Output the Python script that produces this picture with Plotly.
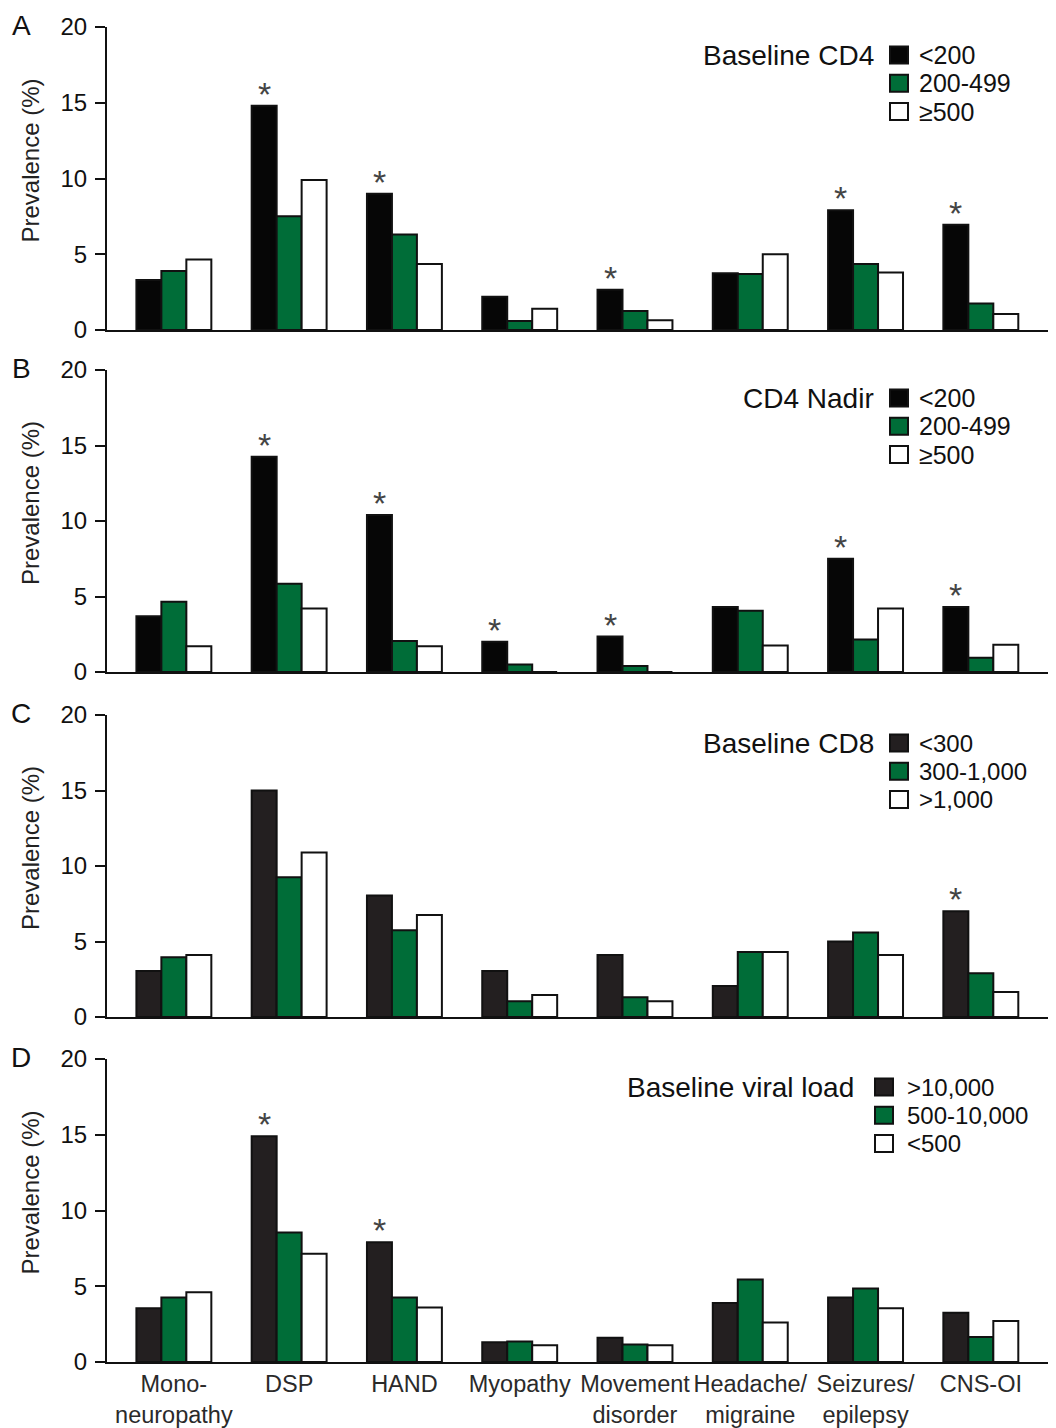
import plotly.graph_objects as go

# ---------------- data ----------------
categories = ["Mono-<br>neuropathy", "DSP", "HAND", "Myopathy",
              "Movement<br>disorder", "Headache/<br>migraine",
              "Seizures/<br>epilepsy", "CNS-OI"]

# Panel A: Baseline CD4
a_low = [3.3, 14.8, 9.0, 2.2, 2.65, 3.75, 7.9, 6.95]
a_mid = [3.9, 7.5, 6.3, 0.6, 1.25, 3.7, 4.35, 1.75]
a_high = [4.65, 9.9, 4.35, 1.4, 0.65, 5.0, 3.8, 1.05]
a_star = [0, 1, 1, 0, 1, 0, 1, 1]

# Panel B: CD4 Nadir
b_low = [3.7, 14.25, 10.4, 2.0, 2.35, 4.3, 7.5, 4.3]
b_mid = [4.65, 5.85, 2.05, 0.5, 0.4, 4.05, 2.15, 0.95]
b_high = [1.7, 4.2, 1.7, 0.0, 0.0, 1.75, 4.2, 1.8]
b_star = [0, 1, 1, 1, 1, 0, 1, 1]

# Panel C: Baseline CD8
c_low = [3.05, 15.0, 8.05, 3.05, 4.1, 2.05, 5.0, 7.0]
c_mid = [3.95, 9.25, 5.75, 1.05, 1.3, 4.3, 5.6, 2.9]
c_high = [4.1, 10.9, 6.75, 1.45, 1.05, 4.3, 4.1, 1.65]
c_star = [0, 0, 0, 0, 0, 0, 0, 1]

# Panel D: Baseline viral load
d_low = [3.55, 14.9, 7.9, 1.3, 1.6, 3.9, 4.25, 3.25]
d_mid = [4.25, 8.55, 4.25, 1.35, 1.15, 5.45, 4.85, 1.65]
d_high = [4.6, 7.15, 3.6, 1.1, 1.1, 2.6, 3.55, 2.7]
d_star = [0, 1, 1, 0, 0, 0, 0, 0]

panel_letters = ["A", "B", "C", "D"]
legend_titles = ["Baseline CD4", "CD4 Nadir", "Baseline CD8", "Baseline viral load"]
legend_labels = [["<200", "200-499", "≥500"],
                 ["<200", "200-499", "≥500"],
                 ["<300", "300-1,000", ">1,000"],
                 [">10,000", "500-10,000", "<500"]]
y_ticks = [0, 5, 10, 15, 20]

panels = [(a_low, a_mid, a_high, a_star),
          (b_low, b_mid, b_high, b_star),
          (c_low, c_mid, c_high, c_star),
          (d_low, d_mid, d_high, d_star)]

# ---------------- styling / layout ----------------
# page has an 8px body margin -> figure sits at (8, 8)
OFF = 8
W, H = 1056 - OFF, 1428 - OFF
ML, MR, MT = 107 - OFF, 6, 27 - OFF
MB = H - (1362 - OFF)
plot_h = H - MT - MB
plot_w = W - ML - MR
tops = [27, 370, 715, 1059]
bots = [330, 672, 1017, 1362]

FONT = "Liberation Sans, Arial, Helvetica, sans-serif"
BLACKS = ["#060606", "#060606", "#231f20", "#231f20"]
GREEN = "#006d38"
OUTLINE = "#111111"
BARGAP = 0.35

fig = go.Figure()
annotations = []
shapes = []

for p, (low, mid, high, star) in enumerate(panels):
    n = p + 1
    xa = "x" if n == 1 else f"x{n}"
    ya = "y" if n == 1 else f"y{n}"
    xs = list(range(len(categories)))
    series = [(low, BLACKS[p]), (mid, GREEN), (high, "#ffffff")]
    for k, (vals, col) in enumerate(series):
        fig.add_trace(go.Bar(
            x=xs, y=vals, xaxis=xa, yaxis=ya, offsetgroup=str(k),
            marker=dict(color=col, line=dict(color=OUTLINE, width=2)),
            showlegend=False, hoverinfo="y"))
    # asterisks over first (black) bar
    bw = (1 - BARGAP) / 3
    for i, s in enumerate(star):
        if s:
            annotations.append(dict(
                x=i - bw, y=low[i], xref=xa, yref=ya, text="*",
                showarrow=False, yanchor="middle", yshift=12,
                font=dict(family=FONT, size=34, color="#444444")))

    dom = [(1362 - bots[p]) / plot_h, (1362 - tops[p]) / plot_h]
    ph = bots[p] - tops[p]
    ax_common = dict(showline=True, linecolor="#111111", linewidth=2,
                     showgrid=False, zeroline=False, automargin=False)
    xkey = "xaxis" if n == 1 else f"xaxis{n}"
    ykey = "yaxis" if n == 1 else f"yaxis{n}"
    fig.layout[xkey] = dict(
        **ax_common, domain=[0, 1], anchor=ya, range=[-0.58, 7.6],
        tickmode="array", tickvals=xs, ticktext=categories,
        showticklabels=(n == 4), ticks="", tickangle=0,
        tickfont=dict(family=FONT, size=23.5, color="#2a2a2a"))
    fig.layout[ykey] = dict(
        **ax_common, domain=dom, anchor=xa, range=[0, 20],
        tickmode="array", tickvals=y_ticks, ticks="outside",
        ticklen=10, tickwidth=2, tickcolor="#111111",
        ticklabelstandoff=3,
        tickfont=dict(family=FONT, size=24, color="#111111"))

    yd = f"{ya} domain"
    # y-axis title (sits ~18px above panel centre in the reference)
    annotations.append(dict(
        x=(30 - 107) / plot_w, y=0.5 + 18 / ph, xref="paper", yref=yd,
        text="Prevalence (%)", textangle=-90, showarrow=False,
        xanchor="center", yanchor="middle",
        font=dict(family=FONT, size=24, color="#222222")))
    # panel letter
    annotations.append(dict(
        x=(21 - 107) / plot_w, y=1 + 19 / ph, xref="paper", yref=yd,
        text=panel_letters[p], showarrow=False,
        xanchor="center", yanchor="top",
        font=dict(family=FONT, size=28, color="#111111")))

    # legend
    if p < 3:
        t_right, sq_l, sq_r, txt_l = 876, 890, 908, 917
    else:
        t_right, sq_l, sq_r, txt_l = 856, 875, 893, 905
    lab_size = 25 if p < 2 else 24
    title_size = 28
    row_off = [28, 56.3, 84.6]
    annotations.append(dict(
        x=(t_right - 107) / plot_w, y=1 - row_off[0] / ph, xref="paper", yref=yd,
        text=legend_titles[p], showarrow=False, xanchor="right", yanchor="middle",
        font=dict(family=FONT, size=title_size, color="#111111")))
    sw_cols = [BLACKS[p], GREEN, "#ffffff"]
    for r in range(3):
        yc = 1 - row_off[r] / ph
        shapes.append(dict(
            type="rect", xref="paper", yref=yd,
            x0=(sq_l - 107) / plot_w, x1=(sq_r - 107) / plot_w,
            y0=yc - 8.5 / ph, y1=yc + 8.5 / ph,
            fillcolor=sw_cols[r], line=dict(color=OUTLINE, width=2)))
        annotations.append(dict(
            x=(txt_l - 107) / plot_w, y=yc, xref="paper", yref=yd,
            text=legend_labels[p][r], showarrow=False, xanchor="left",
            yanchor="middle",
            font=dict(family=FONT, size=lab_size, color="#111111")))

fig.update_layout(
    width=W, height=H,
    margin=dict(l=ML, r=MR, t=MT, b=MB, pad=0, autoexpand=False),
    paper_bgcolor="white", plot_bgcolor="white",
    barmode="group", bargap=BARGAP, bargroupgap=0,
    annotations=annotations, shapes=shapes,
    font=dict(family=FONT),
    showlegend=False,
)

fig.write_html("out.html")
